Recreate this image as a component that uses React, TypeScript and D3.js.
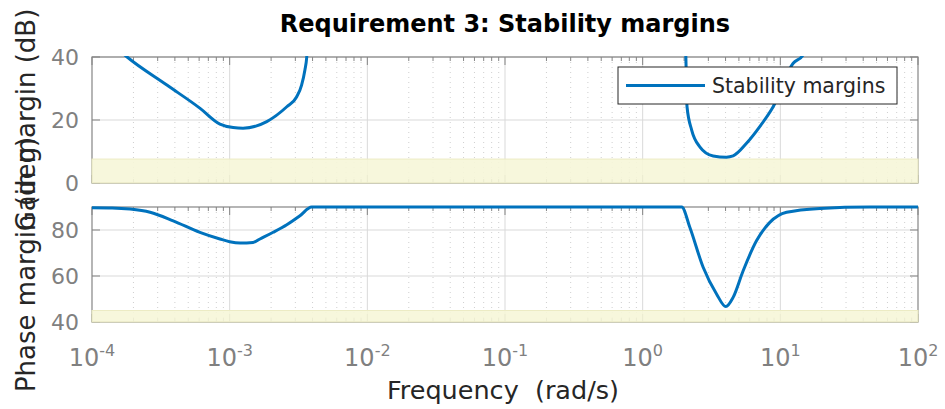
import React from "react";
import * as d3 from "d3";

// ---- data ----
const xTickExponents = [-4, -3, -2, -1, 0, 1, 2];
const gainTicks = [0, 20, 40];
const phaseTicks = [40, 60, 80];

const gainLeftFreq = [1.6e-4, 1.8e-4, 3.5e-4, 6.1e-4, 8.5e-4, 1.06e-3, 1.25e-3, 1.86e-3, 2.6e-3, 3.07e-3, 3.33e-3, 3.52e-3, 3.63e-3, 3.7e-3];
const gainLeftDb = [41.9, 40, 31.1, 23.7, 18.7, 17.6, 17.4, 19.5, 24.2, 27.4, 31.1, 35.9, 40, 46];

const gainRightFreq = [2.0, 2.06, 2.1, 2.27, 2.6, 3.25, 4.06, 4.54, 5.68, 7.09, 8.87, 12.4, 14.6, 16];
const gainRightDb = [60, 40, 24.2, 16.8, 11.5, 8.6, 8.2, 8.6, 12.6, 17.9, 24.2, 38, 40.6, 45];

const phaseFreq = [1e-4, 1.4e-4, 1.89e-4, 2.64e-4, 3.89e-4, 6.08e-4, 8.5e-4, 1.0e-3, 1.19e-3, 1.48e-3, 1.66e-3, 2.07e-3, 2.6e-3, 3.24e-3, 3.94e-3,
  1.92, 2.2, 2.75, 3.44, 4.02, 4.54, 5.37, 6.71, 8.39, 11.1, 19.4, 44.7, 100];
const phaseDeg = [89.7, 89.6, 89.1, 87.7, 84.0, 79.0, 76.1, 74.9, 74.3, 74.6, 76.1, 79.0, 82.3, 86.2, 90,
  90, 81.2, 63.8, 52.2, 46.7, 50.7, 62.3, 75.3, 83.3, 87.7, 89.4, 90, 90];

const gainBand = [0, 7.6];
const phaseBand = [40, 45];

const title = "Requirement 3: Stability margins";
const xLabel = "Frequency\u00A0 (rad/s)";
const gainLabel = "Gain margin (dB)";
const phaseLabel = "Phase margin (deg)";
const legendLabel = "Stability margins";

// ---- layout ----
const W = 945, H = 409;
const X0 = 92, X1 = 918;
const TOP = { y0: 57, y1: 183 };
const BOT = { y0: 207, y1: 322 };
const BLUE = "#0072BD";
const AXIS = "#858585";
const TICKTXT = "#808080";
const FONT = "DejaVu Sans, Liberation Sans, sans-serif";

export default function App() {
  const x = d3.scaleLog().domain([1e-4, 1e2]).range([X0, X1]);
  const yG = d3.scaleLinear().domain([0, 40]).range([TOP.y1, TOP.y0]);
  const yP = d3.scaleLinear().domain([40, 90]).range([BOT.y1, BOT.y0]);

  const majors = xTickExponents.map((e) => Math.pow(10, e));
  const minors: number[] = [];
  for (let e = -4; e < 2; e++) for (let k = 2; k <= 9; k++) minors.push(k * Math.pow(10, e));

  const mk = (fs: number[], vs: number[], ys: d3.ScaleLinear<number, number>) =>
    d3.line<number>()
      .x((f) => x(f))
      .y((_, i) => ys(vs[i]))
      .curve(d3.curveMonotoneX)(fs) || "";

  const gainLeftPath = mk(gainLeftFreq, gainLeftDb, yG);
  const gainRightPath = mk(gainRightFreq, gainRightDb, yG);
  const phasePath = mk(phaseFreq, phaseDeg, yP);

  const panel = (
    box: { y0: number; y1: number },
    ys: d3.ScaleLinear<number, number>,
    ticks: number[],
    band: number[],
    key: string
  ) => (
    <g key={key}>
      {/* minor grid */}
      {minors.map((m) => (
        <line key={"mg" + m} x1={x(m)} x2={x(m)} y1={box.y0} y2={box.y1}
          stroke="#cfcfcf" strokeWidth={1} strokeDasharray="1,4" />
      ))}
      {/* major grid */}
      {majors.slice(1, -1).map((m) => (
        <line key={"Mg" + m} x1={x(m)} x2={x(m)} y1={box.y0} y2={box.y1} stroke="#d9d9d9" strokeWidth={1} />
      ))}
      {ticks.map((t) => (
        <line key={"yg" + t} x1={X0} x2={X1} y1={ys(t)} y2={ys(t)} stroke="#d9d9d9" strokeWidth={1} />
      ))}
      {/* box */}
      <rect x={X0} y={box.y0} width={X1 - X0} height={box.y1 - box.y0} fill="none" stroke={AXIS} strokeWidth={1.2} />
      {/* x ticks top & bottom */}
      {minors.map((m) => (
        <g key={"mt" + m}>
          <line x1={x(m)} x2={x(m)} y1={box.y0} y2={box.y0 + 4} stroke={AXIS} />
          <line x1={x(m)} x2={x(m)} y1={box.y1} y2={box.y1 - 4} stroke={AXIS} />
        </g>
      ))}
      {majors.map((m) => (
        <g key={"Mt" + m}>
          <line x1={x(m)} x2={x(m)} y1={box.y0} y2={box.y0 + 8} stroke={AXIS} />
          <line x1={x(m)} x2={x(m)} y1={box.y1} y2={box.y1 - 8} stroke={AXIS} />
        </g>
      ))}
      {/* y ticks */}
      {ticks.map((t) => (
        <g key={"yt" + t}>
          <line x1={X0} x2={X0 + 8} y1={ys(t)} y2={ys(t)} stroke={AXIS} />
          <line x1={X1} x2={X1 - 8} y1={ys(t)} y2={ys(t)} stroke={AXIS} />
          <text x={79} y={ys(t)} dy="0.36em" textAnchor="end" fontFamily={FONT} fontSize={22} fill={TICKTXT}>
            {t}
          </text>
        </g>
      ))}
      {/* requirement band */}
      <rect x={X0} y={ys(band[1])} width={X1 - X0} height={ys(band[0]) - ys(band[1])}
        fill="#f6f6d8" fillOpacity={0.9} stroke="#ecebc4" strokeWidth={1} />
    </g>
  );

  return (
    <svg width={W} height={H} style={{ position: "absolute", left: 0, top: 0, background: "#fff" }}>
      <defs>
        <clipPath id="clipTop">
          <rect x={X0 - 2} y={TOP.y0 - 1} width={X1 - X0 + 4} height={TOP.y1 - TOP.y0 + 2} />
        </clipPath>
        <clipPath id="clipBot">
          <rect x={X0 - 2} y={BOT.y0 - 3} width={X1 - X0 + 4} height={BOT.y1 - BOT.y0 + 6} />
        </clipPath>
      </defs>
      <rect width={W} height={H} fill="#fff" />
      {panel(TOP, yG, gainTicks, gainBand, "top")}
      {panel(BOT, yP, phaseTicks, phaseBand, "bot")}

      {/* curves */}
      <g clipPath="url(#clipTop)" fill="none" stroke={BLUE} strokeWidth={3} strokeLinejoin="round">
        <path d={gainLeftPath} />
        <path d={gainRightPath} />
      </g>
      <g clipPath="url(#clipBot)" fill="none" stroke={BLUE} strokeWidth={3} strokeLinejoin="round">
        <path d={phasePath} />
      </g>

      {/* legend */}
      <g>
        <rect x={618} y={67} width={279} height={37} fill="#fff" stroke="#262626" strokeWidth={1} />
        <line x1={626} x2={705} y1={85.5} y2={85.5} stroke={BLUE} strokeWidth={3} />
        <text x={712} y={93} fontFamily={FONT} fontSize={20.5} fill="#262626">{legendLabel}</text>
      </g>

      {/* x tick labels */}
      {xTickExponents.map((e) => (
        <text key={"xl" + e} x={x(Math.pow(10, e))} y={366} textAnchor="middle" fontFamily={FONT} fill={TICKTXT}>
          <tspan fontSize={24}>10</tspan>
          <tspan fontSize={16} dy={-10}>{e}</tspan>
        </text>
      ))}

      {/* labels */}
      <text x={505} y={32} textAnchor="middle" fontFamily={FONT} fontWeight="bold" fontSize={24} fill="#000">
        {title}
      </text>
      <text x={503} y={399} textAnchor="middle" fontFamily={FONT} fontSize={25.5} fill="#262626">
        {xLabel}
      </text>
      <text transform={`translate(35,${(TOP.y0 + TOP.y1) / 2}) rotate(-90)`} textAnchor="middle"
        fontFamily={FONT} fontSize={26} fill="#262626">
        {gainLabel}
      </text>
      <text transform={`translate(35,${(BOT.y0 + BOT.y1) / 2}) rotate(-90)`} textAnchor="middle"
        fontFamily={FONT} fontSize={26} fill="#262626">
        {phaseLabel}
      </text>
    </svg>
  );
}
